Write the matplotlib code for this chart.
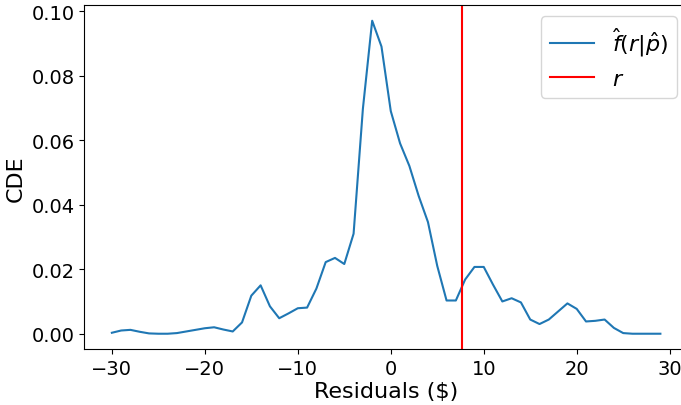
import numpy as np
import matplotlib
matplotlib.use("Agg")
import matplotlib.pyplot as plt

# residual grid and estimated conditional density
residuals = np.arange(-30, 30)
cde = [0.0003, 0.0010, 0.0012, 0.0006, 0.0001, 0.0000, 0.0000, 0.0002, 0.0007, 0.0012,
       0.0017, 0.0020, 0.0013, 0.0007, 0.0035, 0.0118, 0.0150, 0.0085, 0.0048, 0.0063,
       0.0079, 0.0081, 0.0140, 0.0222, 0.0235, 0.0216, 0.0310, 0.0697, 0.0970, 0.0890,
       0.0690, 0.0590, 0.0520, 0.0427, 0.0346, 0.0210, 0.0103, 0.0103, 0.0168, 0.0207,
       0.0207, 0.0152, 0.0100, 0.0110, 0.0097, 0.0044, 0.0030, 0.0044, 0.0069, 0.0094,
       0.0077, 0.0038, 0.0040, 0.0044, 0.0018, 0.0002, 0.0000, 0.0000, 0.0000, 0.0000]
observed_r = 7.7

fig = plt.figure(figsize=(6.81, 4.06), dpi=100)
# axes run slightly past the right edge of the canvas
ax = fig.add_axes([0.124, 0.137, 0.886, 0.848])
ax.plot(residuals, cde, color="tab:blue", label=r"$\hat{f}(r|\hat{p})$")
ax.axvline(observed_r, color="red", label=r"$r$")
ax.set_xlabel("Residuals ($)", fontsize=16, labelpad=2)
ax.set_ylabel("CDE", fontsize=16)
ax.tick_params(labelsize=14)
ax.legend(fontsize=16, loc="upper right")
fig.savefig("out.png", dpi=100)
